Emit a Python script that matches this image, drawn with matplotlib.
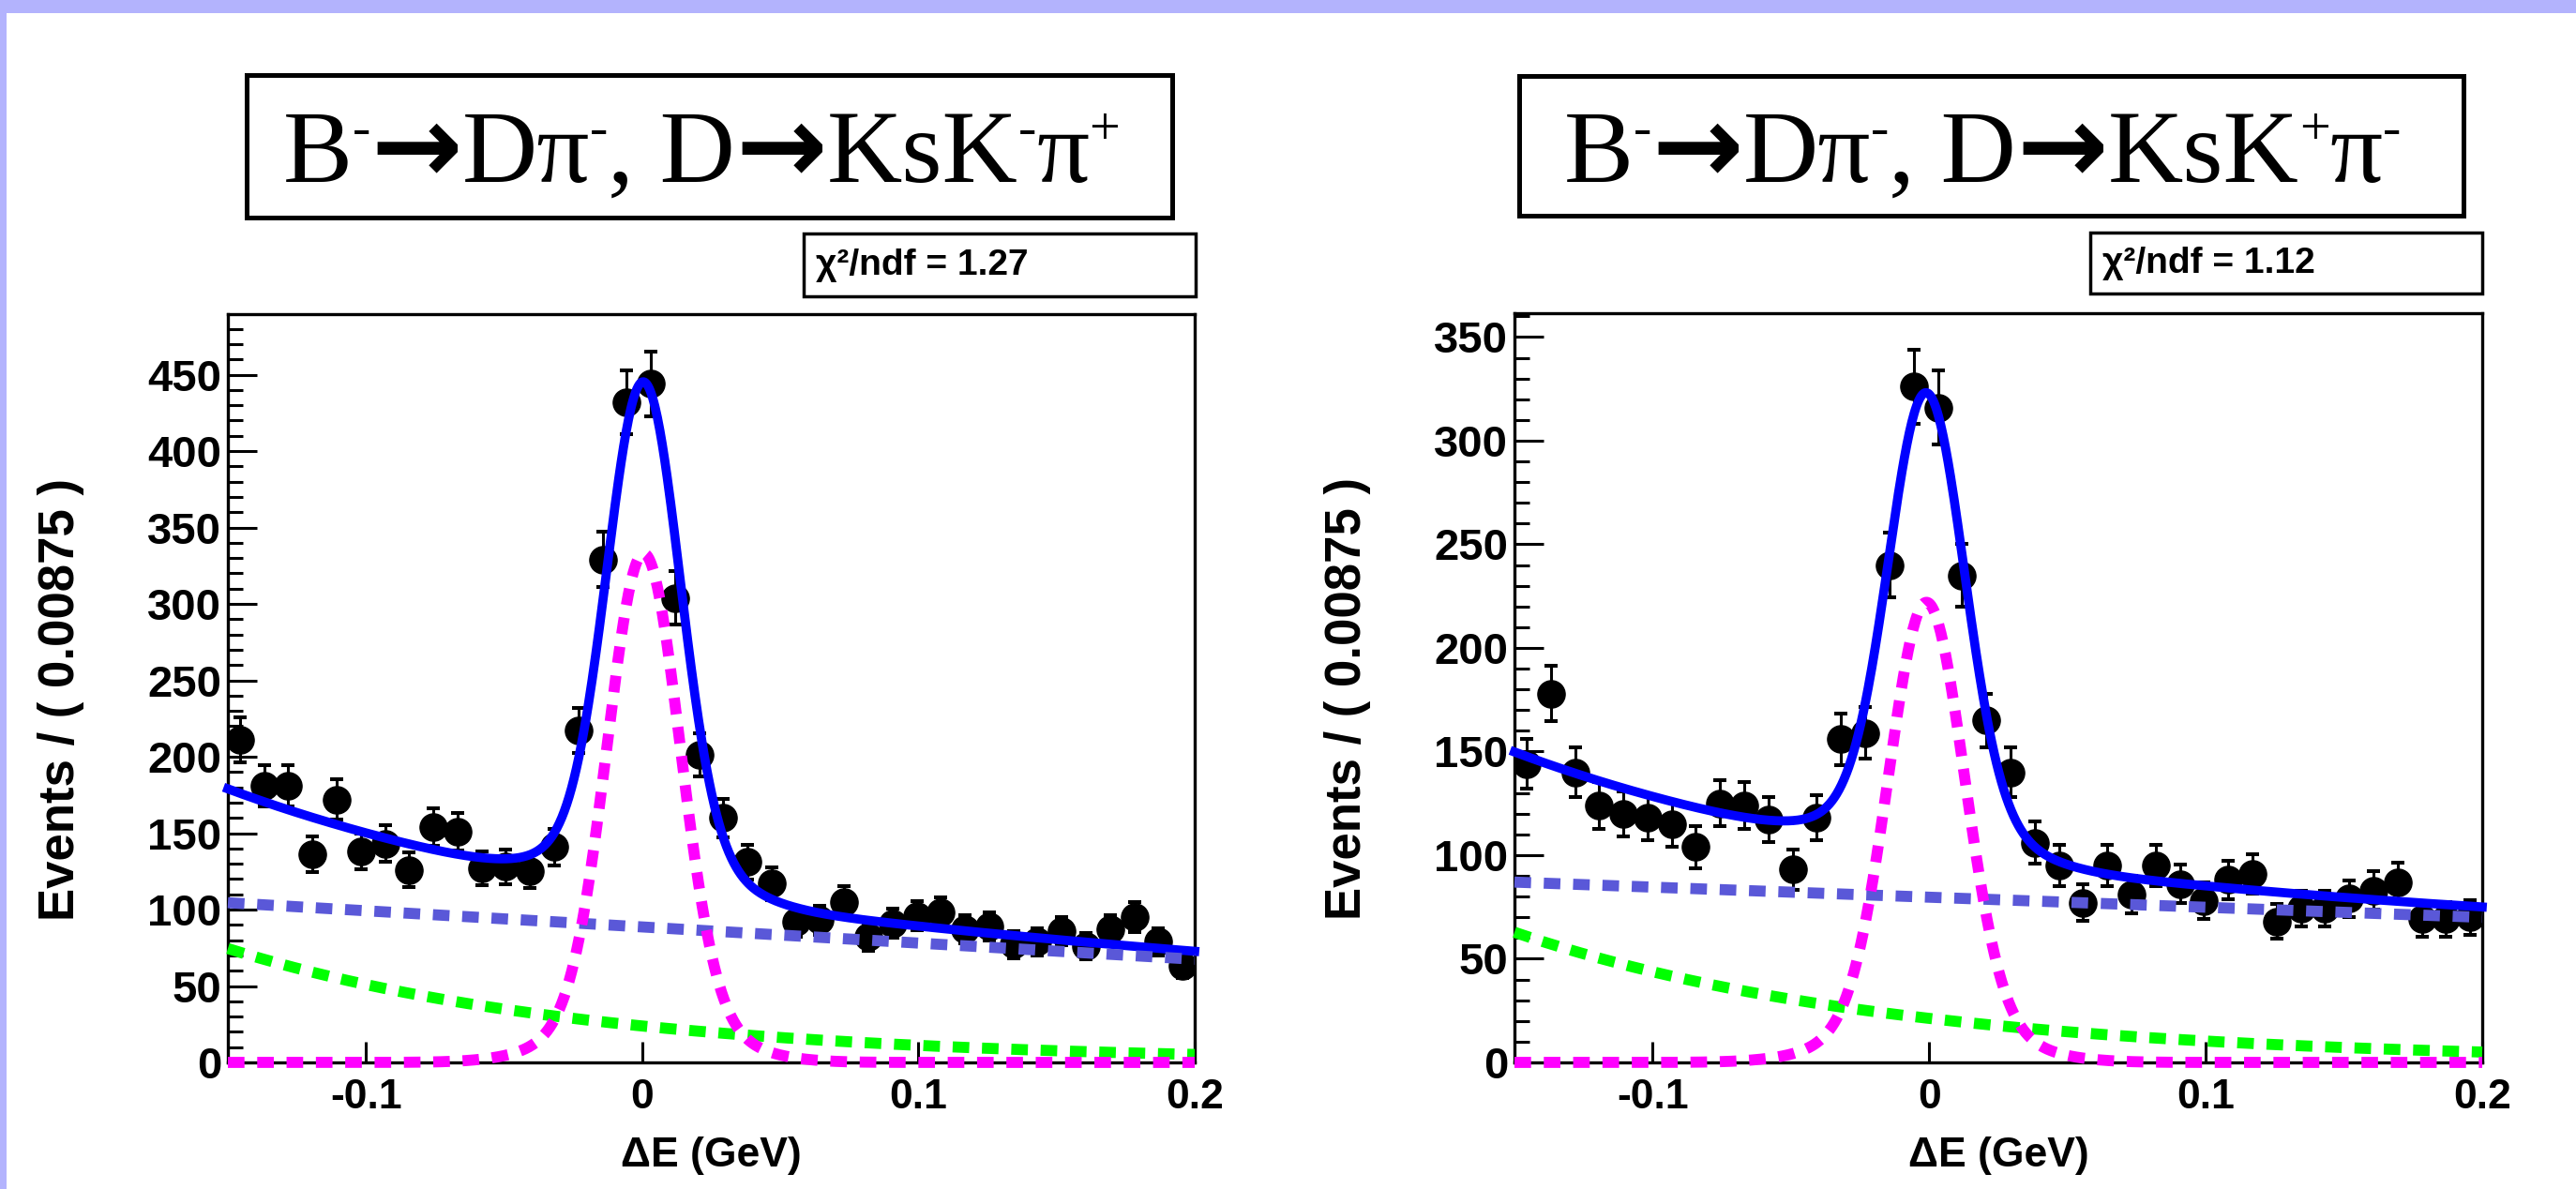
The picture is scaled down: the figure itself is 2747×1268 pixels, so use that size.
import numpy as np
import matplotlib.pyplot as plt
from matplotlib.patches import Rectangle
from matplotlib.transforms import IdentityTransform
from matplotlib.ticker import FixedLocator, FixedFormatter, MultipleLocator

W, H = 2747, 1268
DPI = 100

# Delta E binning: 40 bins of 0.00875 GeV from -0.15 to 0.2
bin_edges = np.linspace(-0.15, 0.2, 41)
bin_centers = 0.5 * (bin_edges[:-1] + bin_edges[1:])

# B- -> D pi-, D -> Ks K- pi+
counts_left = [211, 181, 181, 136, 172, 138, 143, 126, 154, 151,
               127, 128, 125, 141, 217, 329, 432, 444, 304, 201,
               160, 131, 117, 92, 93, 105, 82, 91, 96, 98,
               87, 89, 77, 79, 86, 76, 87, 95, 79, 63]
# B- -> D pi-, D -> Ks K+ pi-
counts_right = [144, 178, 140, 124, 120, 118, 115, 104, 125, 124,
                117, 93, 118, 156, 159, 240, 326, 316, 235, 165,
                140, 106, 95, 77, 95, 81, 95, 86, 78, 88,
                91, 68, 74, 74, 79, 83, 87, 69, 69, 70]

# fit components
# signal: double gaussian (mean, core amp, core sigma, wide amp, wide sigma)
sig_left = (0.0005, 300.0, 0.013, 33.0, 0.025)
sig_right = (-0.001, 200.0, 0.0135, 22.0, 0.026)
# combinatoric background: straight line, value at -0.15 and at 0.2
comb_left = (104.5, 67.5)
comb_right = (87.0, 70.0)
# other B background: exponential, value at -0.15 and slope
bb_left = (74.5, 7.6)
bb_right = (62.8, 7.23)

# title pieces: (text, style)
title_left = [("B", "rm"), ("-", "sup"), ("→", "arrow"), ("Dπ", "rm"), ("-", "sup"),
              (", D", "rm"), ("→", "arrow"), ("KsK", "rm"), ("-", "sup"), ("π", "rm"), ("+", "sup")]
title_right = [("B", "rm"), ("-", "sup"), ("→", "arrow"), ("Dπ", "rm"), ("-", "sup"),
               (", D", "rm"), ("→", "arrow"), ("KsK", "rm"), ("+", "sup"), ("π", "rm"), ("-", "sup")]
chi2_text = ["χ²/ndf = 1.27", "χ²/ndf = 1.12"]
ymax = [489.6, 361.5]
major_y = [np.arange(0, 451, 50), np.arange(0, 351, 50)]


def signal(x, p):
    m, a1, s1, a2, s2 = p
    return a1 * np.exp(-0.5 * ((x - m) / s1) ** 2) + a2 * np.exp(-0.5 * ((x - m) / s2) ** 2)


def comb(x, p):
    return p[0] + (p[1] - p[0]) * (x + 0.15) / 0.35


def bbkg(x, p):
    return p[0] * np.exp(-p[1] * (x + 0.15))


def fx(px):
    return px / W


def fy(py):
    return 1 - py / H


sans = ['Liberation Sans', 'DejaVu Sans']
serif = ['Liberation Serif', 'DejaVu Serif']
styles = {
    "rm": dict(fontsize=80, family=serif),
    "sup": dict(fontsize=42, family=serif),
    "arrow": dict(fontsize=84, family=['DejaVu Sans'], fontweight='bold'),
}
raise_px = {"rm": 0, "sup": 40, "arrow": 0}


def draw_title(fig, pieces, cx, base_y):
    # lay the pieces out side by side in pixel space, then centre them on cx
    renderer = fig.canvas.get_renderer()
    arts, widths = [], []
    for s, st in pieces:
        t = fig.text(0, 0, s, transform=IdentityTransform(), ha='left', va='baseline',
                     color='black', zorder=3, **styles[st])
        arts.append((t, st))
        widths.append(t.get_window_extent(renderer).width)
    x = cx - sum(widths) / 2
    yb = H - base_y
    for (t, st), w in zip(arts, widths):
        t.set_position((x, yb + raise_px[st]))
        x += w


fig = plt.figure(figsize=(W / DPI, H / DPI), dpi=DPI)
fig.patch.set_facecolor('white')
band = '#b3b3fd'
fig.add_artist(Rectangle((0, fy(14)), 1, 14 / H, transform=fig.transFigure,
                         facecolor=band, edgecolor='none', zorder=0))
fig.add_artist(Rectangle((0, 0), 7 / W, 1, transform=fig.transFigure,
                         facecolor=band, edgecolor='none', zorder=0))

# pixel layout: axes, title box, chi2 box
axes_px = [(243, 1274, 335, 1133), (1615, 2647, 334, 1133)]
title_px = [(263, 1250, 80, 232), (1620, 2627, 81, 230)]
title_cx = [748, 2114]
chi2_px = [(857, 1275, 249, 316), (2229, 2647, 248, 313)]

counts_all = [counts_left, counts_right]
sig_all = [sig_left, sig_right]
comb_all = [comb_left, comb_right]
bb_all = [bb_left, bb_right]
titles = [title_left, title_right]

xf = np.linspace(-0.15, 0.2, 800)
dash = (1.5, 1.15)

for i in range(2):
    x0, x1, y0, y1 = axes_px[i]
    ax = fig.add_axes([fx(x0), fy(y1), (x1 - x0) / W, (y1 - y0) / H])
    counts = np.array(counts_all[i], dtype=float)

    ax.errorbar(bin_centers, counts, yerr=np.sqrt(counts), fmt='o', color='black',
                ms=21, elinewidth=2.2, capsize=4.7, capthick=2.9, zorder=3)

    s = signal(xf, sig_all[i])
    c = comb(xf, comb_all[i])
    b = bbkg(xf, bb_all[i])
    ax.plot(xf, s + c + b, color='#0000ff', lw=7.0, zorder=4, clip_on=False)
    ax.plot(xf, c, color='#5a58d8', lw=8.5, dashes=dash, zorder=5, clip_on=False)
    ax.plot(xf, b, color='#00ff00', lw=8.5, dashes=dash, zorder=5, clip_on=False)
    ax.plot(xf, s, color='#ff00ff', lw=8.5, dashes=dash, zorder=6, clip_on=False)

    ax.set_xlim(-0.15, 0.2)
    ax.set_ylim(0, ymax[i])
    for sp in ax.spines.values():
        sp.set_linewidth(2.4)
    ax.tick_params(top=False, right=False, direction='in', width=2.2)
    ax.tick_params(axis='y', which='major', length=22, pad=5, labelsize=34)
    ax.tick_params(axis='y', which='minor', length=11.5, width=2.2, direction='in')
    ax.tick_params(axis='x', which='major', length=16, pad=12, labelsize=32)
    ax.yaxis.set_major_locator(FixedLocator(major_y[i]))
    ax.yaxis.set_minor_locator(MultipleLocator(10))
    ax.xaxis.set_major_locator(FixedLocator([-0.1, 0.0, 0.1, 0.2]))
    ax.xaxis.set_major_formatter(FixedFormatter(['-0.1', '0', '0.1', '0.2']))
    for lab in ax.get_xticklabels() + ax.get_yticklabels():
        lab.set_fontweight('bold')
        lab.set_family(sans)

    ax.set_xlabel('ΔE (GeV)', fontsize=32, fontweight='bold', family=sans)
    ax.xaxis.label.set_va('center')
    ax.xaxis.set_label_coords(0.5, -0.125)
    ax.set_ylabel('Events / ( 0.00875 )', fontsize=38, fontweight='bold', family=sans)
    ax.yaxis.label.set_va('center')
    ax.yaxis.set_label_coords(-0.1726, 0.485)

    # title box
    tx0, tx1, ty0, ty1 = title_px[i]
    fig.add_artist(Rectangle((fx(tx0), fy(ty1)), (tx1 - tx0) / W, (ty1 - ty0) / H,
                             transform=fig.transFigure, facecolor='white',
                             edgecolor='black', lw=3.6, zorder=1))
    draw_title(fig, titles[i], title_cx[i], 194)

    # chi2 box
    cx0, cx1, cy0, cy1 = chi2_px[i]
    fig.add_artist(Rectangle((fx(cx0), fy(cy1)), (cx1 - cx0) / W, (cy1 - cy0) / H,
                             transform=fig.transFigure, facecolor='white',
                             edgecolor='black', lw=2.5, zorder=1))
    fig.text(fx(cx0 + 13), fy((cy0 + cy1) / 2), chi2_text[i], fontsize=28,
             fontweight='bold', family=sans, ha='left', va='center', zorder=2)

fig.savefig('out.png', dpi=DPI)
